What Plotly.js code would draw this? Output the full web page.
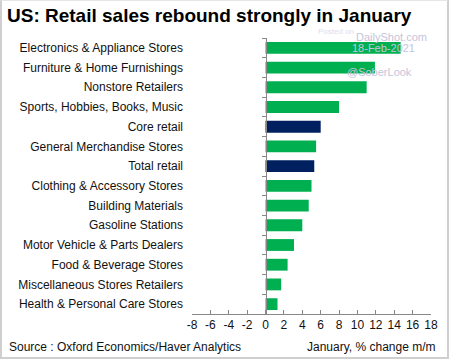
<!DOCTYPE html>
<html>
<head>
<meta charset="utf-8">
<script src="https://cdn.plot.ly/plotly-3.0.1.min.js"></script>
<style>
  html, body { margin: 0; padding: 0; background: #fff; }
  #wrap { position: relative; width: 449px; height: 360px; }
  #chart { width: 449px; height: 360px; }
  #frame { position: absolute; left: 0; top: 0; width: 445px; height: 356px;
           border: 2px solid #cfcfcf; border-top: 1px solid #e6e6e6; pointer-events: none; }
</style>
</head>
<body>
<div id="wrap"><div id="chart"></div><div id="frame"></div></div>
<script>
// Data (top to bottom as in the chart)
const categories = [
  "Electronics & Appliance Stores",
  "Furniture & Home Furnishings",
  "Nonstore Retailers",
  "Sports, Hobbies, Books, Music",
  "Core retail",
  "General Merchandise Stores",
  "Total retail",
  "Clothing & Accessory Stores",
  "Building Materials",
  "Gasoline Stations",
  "Motor Vehicle & Parts Dealers",
  "Food & Beverage Stores",
  "Miscellaneous Stores Retailers",
  "Health & Personal Care Stores"
];
const values = [14.7, 11.9, 11.0, 8.0, 6.0, 5.5, 5.3, 5.0, 4.7, 4.0, 3.1, 2.4, 1.7, 1.3];
const aggregates = ["Core retail", "Total retail"];
const xTicks = [-8, -6, -4, -2, 0, 2, 4, 6, 8, 10, 12, 14, 16, 18];

const GREEN = "#00B050", NAVY = "#002060";
const colors = categories.map(c => aggregates.includes(c) ? NAVY : GREEN);

const FONT = "Liberation Sans, Arial, sans-serif";
const xMin = -8, xMax = 18;
const zeroPos = (0 - xMin) / (xMax - xMin);

// plot area in pixels (for placing free text)
const L = 192, R = 18, T = 38, B = 46, W = 449, H = 360;
const pw = W - L - R, ph = H - T - B;
const px = x => (x - L) / pw;
const py = y => (H - B - y) / ph;

const traces = [
  {
    type: "bar", orientation: "h",
    x: values, y: categories,
    marker: { color: colors, line: { width: 0 } },
    xaxis: "x", yaxis: "y",
    hoverinfo: "x+y"
  },
  {
    type: "scatter", mode: "markers",
    x: categories.map(() => 0), y: categories,
    marker: { opacity: 0, size: 1 },
    xaxis: "x", yaxis: "y2",
    hoverinfo: "skip", showlegend: false
  }
];

const catAxis = {
  type: "category",
  categoryorder: "array",
  categoryarray: categories,
  range: [categories.length - 0.5, -0.5],
  fixedrange: true
};

const wm = { family: FONT, size: 11, color: "#c4c4dc" };

const layout = {
  width: W, height: H,
  margin: { l: L, r: R, t: T, b: B },
  paper_bgcolor: "#ffffff", plot_bgcolor: "#ffffff",
  showlegend: false,
  bargap: 0.4,
  font: { family: FONT, size: 12, color: "#111" },
  title: {
    text: "<b>US: Retail sales rebound strongly in January</b>",
    font: { family: FONT, size: 19, color: "#000" },
    xref: "container", x: 7 / W, xanchor: "left",
    yref: "container", y: 1 - 15 / H, yanchor: "middle"
  },
  xaxis: {
    range: [xMin, xMax],
    tickmode: "array", tickvals: xTicks, ticktext: xTicks.map(String),
    ticks: "inside", ticklen: 4, tickcolor: "#888", tickwidth: 1,
    showline: true, linecolor: "#888", linewidth: 1,
    showgrid: false, zeroline: false,
    tickfont: { family: FONT, size: 12, color: "#111" },
    fixedrange: true
  },
  yaxis: Object.assign({}, catAxis, {
    showline: false, ticks: "", showgrid: false, zeroline: false,
    tickfont: { family: FONT, size: 12, color: "#111" },
    ticklabelstandoff: 8
  }),
  yaxis2: Object.assign({}, catAxis, {
    overlaying: "y", anchor: "free", position: zeroPos, side: "left",
    showline: true, linecolor: "#888", linewidth: 1,
    ticks: "outside", ticklen: 4, tickcolor: "#888", tickson: "boundaries",
    showticklabels: false, showgrid: false, zeroline: false
  }),
  annotations: [
    { text: "Posted on", xref: "paper", yref: "paper", x: px(336), y: py(32),
      xanchor: "center", yanchor: "middle",
      showarrow: false, font: { family: FONT, size: 8, color: "#dedeee" } },
    { text: "DailyShot.com", xref: "paper", yref: "paper", x: px(391), y: py(37),
      xanchor: "center", yanchor: "middle", showarrow: false, font: wm },
    { text: "18-Feb-2021", xref: "paper", yref: "paper", x: px(383), y: py(48),
      xanchor: "center", yanchor: "middle", showarrow: false, font: wm },
    { text: "@SoberLook", xref: "paper", yref: "paper", x: px(379), y: py(72),
      xanchor: "center", yanchor: "middle", showarrow: false, font: wm },
    { text: "Source : Oxford Economics/Haver Analytics", xref: "paper", yref: "paper",
      x: px(7), y: py(347), xanchor: "left", yanchor: "middle",
      showarrow: false, font: { family: FONT, size: 12, color: "#111" } },
    { text: "January, % change m/m", xref: "paper", yref: "paper",
      x: px(438), y: py(347), xanchor: "right", yanchor: "middle",
      showarrow: false, font: { family: FONT, size: 12, color: "#111" } }
  ]
};

Plotly.newPlot("chart", traces, layout, { displayModeBar: false, staticPlot: true });
</script>
</body>
</html>
